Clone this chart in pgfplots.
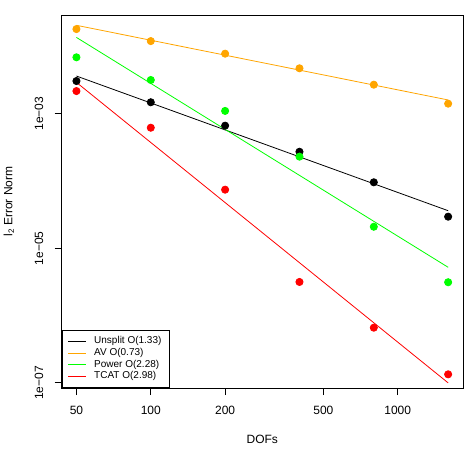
\documentclass[border=0pt]{standalone}
\usepackage{pgfplots}
\pgfplotsset{compat=1.18}
\usepackage{fontspec}
\setmainfont{Liberation Sans}

\definecolor{avorange}{RGB}{255,165,0}
\definecolor{powgreen}{RGB}{0,255,0}
\definecolor{tcatred}{RGB}{255,0,0}

% measured errors
\pgfplotstableread{
dofs  err
50    3.06e-3
100   1.48e-3
200   6.64e-4
400   2.72e-4
800   9.57e-5
1600  2.95e-5
}\unsplit
\pgfplotstableread{
dofs  err
50    1.81e-2
100   1.20e-2
200   7.80e-3
400   4.73e-3
800   2.70e-3
1600  1.41e-3
}\av
\pgfplotstableread{
dofs  err
50    6.89e-3
100   3.17e-3
200   1.10e-3
400   2.30e-4
800   2.09e-5
1600  3.13e-6
}\power
\pgfplotstableread{
dofs  err
50    2.17e-3
100   6.19e-4
200   7.43e-5
400   3.16e-6
800   6.61e-7
1600  1.34e-7
}\tcat

\begin{document}
\begin{tikzpicture}
\begin{axis}[
  xmode=log, ymode=log,
  scale only axis, width=401.5pt, height=373pt,
  xmin=43.5, xmax=1838, ymin=8.39e-8, ymax=2.93e-2,
  xtick={50,100,200,500,1000}, xticklabels={50,100,200,500,1000},
  ytick={1e-7,1e-5,1e-3},
  yticklabels={1e\textminus07,1e\textminus05,1e\textminus03},
  xminorticks=false, yminorticks=false,
  tick align=outside, major tick length=7pt,
  xtick pos=bottom, ytick pos=left,
  tick style={black, line width=0.8pt},
  axis line style={line width=0.8pt},
  every tick label/.append style={font=\fontsize{12}{14}\selectfont},
  xticklabel style={anchor=north, inner sep=0pt},
  xticklabel shift=10.5pt,
  yticklabel style={rotate=90, anchor=south, inner sep=0pt},
  yticklabel shift=11pt,
  xlabel={DOFs},
  ylabel={l\textsubscript{2} Error Norm},
  label style={font=\fontsize{12}{14}\selectfont},
  xlabel style={at={(axis description cs:0.5,-0.1367)}, anchor=center},
  ylabel style={at={(axis description cs:-0.1308,0.5)}, anchor=center},
  legend style={at={(rel axis cs:0,0)}, anchor=south west, draw=black,
    line width=0.8pt, font=\fontsize{10}{12}\selectfont,
    inner xsep=6pt, inner ysep=5.3pt, row sep=0pt,
    nodes={inner xsep=1.5pt, inner ysep=0pt, text height=8.2pt, text depth=3.5pt}},
  legend cell align=left,
  legend image code/.code={%
    \draw[#1, line width=0.8pt] (0pt,0pt) -- (18pt,0pt);
    \path (24pt,0pt);},
  every axis plot/.append style={line width=0.8pt},
  mark size=3.6pt,
]
\coordinate (sw) at (rel axis cs:0,0);
\coordinate (ne) at (rel axis cs:1,1);

% Unsplit
\addplot[only marks, mark=*, black, forget plot] table[x=dofs, y=err] {\unsplit};
\addplot[black, no marks] coordinates {(50,3.63e-3) (1600,3.62e-5)};
\addlegendentry{Unsplit O(1.33)}
% AV
\addplot[only marks, mark=*, avorange, forget plot] table[x=dofs, y=err] {\av};
\addplot[avorange, no marks] coordinates {(50,2.06e-2) (1600,1.60e-3)};
\addlegendentry{AV O(0.73)}
% Power
\addplot[only marks, mark=*, powgreen, forget plot] table[x=dofs, y=err] {\power};
\addplot[powgreen, no marks] coordinates {(50,1.36e-2) (1600,5.22e-6)};
\addlegendentry{Power O(2.28)}
% TCAT
\addplot[only marks, mark=*, tcatred, forget plot] table[x=dofs, y=err] {\tcat};
\addplot[tcatred, no marks] coordinates {(50,2.92e-3) (1600,1.0e-7)};
\addlegendentry{TCAT O(2.98)}
\end{axis}
\pgfresetboundingbox
\path ([shift={(-61.5pt,-61pt)}]sw) rectangle ([shift={(2pt,15pt)}]ne);
\end{tikzpicture}
\end{document}
